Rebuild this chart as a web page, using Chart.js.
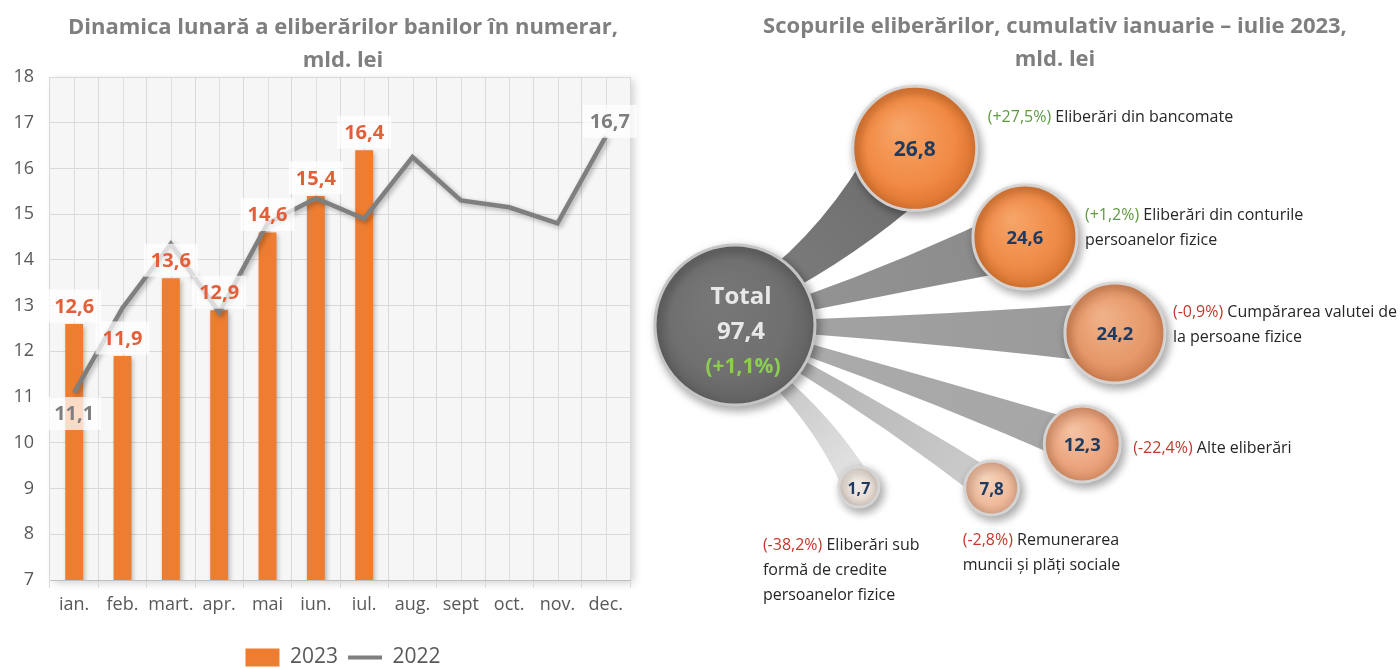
<!DOCTYPE html>
<html lang="ro">
<head>
<meta charset="UTF-8">
<title>Eliberări de numerar</title>
<script src="https://cdn.jsdelivr.net/npm/chart.js"></script>
<style>
  html, body { margin: 0; padding: 0; background: #fff; overflow: hidden; }
  body { width: 1400px; height: 668px; position: relative; }
  #wrapLeft { position: absolute; left: 0; top: 0; width: 686px; height: 678px; }
  #wrapRight { position: absolute; left: 640px; top: 0; width: 760px; height: 668px; }
</style>
</head>
<body>
<div id="wrapLeft"><canvas id="dynChart"></canvas></div>
<div id="wrapRight"><canvas id="purposeChart"></canvas></div>

<script>
// --- date: dinamica lunară (mld. lei) ---
const months = ['ian.', 'feb.', 'mart.', 'apr.', 'mai', 'iun.', 'iul.', 'aug.', 'sept', 'oct.', 'nov.', 'dec.'];
const cash2023 = [12.6, 11.9, 13.6, 12.9, 14.6, 15.4, 16.4];
const cash2022 = [11.1, 12.95, 14.35, 12.85, 14.8, 15.35, 14.9, 16.25, 15.3, 15.15, 14.8, 16.7];
const yMin = 7, yMax = 18;

// --- date: scopurile eliberărilor, ian-iul 2023 ---
const purposes = [
  ['Eliberări din bancomate'],
  ['Eliberări din conturile', 'persoanelor fizice'],
  ['Cumpărarea valutei de', 'la persoane fizice'],
  ['Alte eliberări'],
  ['Remunerarea', 'muncii și plăți sociale'],
  ['Eliberări sub', 'formă de credite', 'persoanelor fizice']
];
const purposeValues = [26.8, 24.6, 24.2, 12.3, 7.8, 1.7];
const purposeChange = [27.5, 1.2, -0.9, -22.4, -2.8, -38.2];
const totalValue = 97.4;
const totalChange = 1.1;

// --- aranjare (nu date): poziția bulelor în jurul totalului ---
const hubLayout = { r: 80, hi: '#777777', fill: '#707070', edge: '#626262' };
const bubbleLayout = [
  { angle: -44.5, dist: 252, r: 62, font: 21,   hi: '#f7a468', fill: '#f08a44', edge: '#d9732f', bandNear: '#7a7a7a', bandFar: '#6b6b6b', w0: 30, w1: 0.68, bend: 16 },
  { angle: -16.9, dist: 303, r: 52, font: 18.5, hi: '#f6a468', fill: '#ee8a47', edge: '#d67430', bandNear: '#939393', bandFar: '#8a8a8a', w0: 14, w1: 0.6, bend: 3 },
  { angle: 1.2,   dist: 380, r: 50, font: 18.5, hi: '#f0b188', fill: '#e6996a', edge: '#d08052', bandNear: '#a2a2a2', bandFar: '#999999', w0: 14, w1: 0.62, bend: 0 },
  { angle: 18.9,  dist: 367, r: 38, font: 18.5, hi: '#f3c2a3', fill: '#eba57e', edge: '#d78d64', bandNear: '#aaaaaa', bandFar: '#a6a6a6', w0: 12, w1: 0.56, bend: -3 },
  { angle: 32.4,  dist: 304, r: 27, font: 17,   hi: '#f6d4bd', fill: '#eebb9c', edge: '#dba386', bandNear: '#b3b3b3', bandFar: '#cdcdcd', w0: 12, w1: 0.58, bend: -5 },
  { angle: 52.6,  dist: 204, r: 20, font: 16,   hi: '#f5efea', fill: '#e9ded6', edge: '#d3c7bf', bandNear: '#c8c8c8', bandFar: '#e6e6e6', w0: 14, w1: 0.78, bend: -12 }
];
const labelLayout = [
  { dx: 73, dy: -31 },
  { dx: 60, dy: -21 },
  { dx: 58, dy: -21 },
  { dx: 51, dy: 5 },
  { dx: -29, dy: 53 },
  { dx: -96, dy: 58 }
];

const fmt = v => v.toFixed(1).replace('.', ',');
const fmtPct = v => '(' + (v >= 0 ? '+' : '') + fmt(v) + '%)';

const FONT = '"Open Sans"';
Chart.defaults.font.family = FONT;
Chart.defaults.color = '#595959';

// ---------- grafic stânga ----------
const plotBackdrop = {
  id: 'plotBackdrop',
  beforeDraw(chart) {
    const { ctx, chartArea: a } = chart;
    ctx.save();
    ctx.shadowColor = 'rgba(0,0,0,0.18)';
    ctx.shadowBlur = 8;
    ctx.shadowOffsetX = 4;
    ctx.shadowOffsetY = 3;
    ctx.fillStyle = '#f6f6f6';
    ctx.fillRect(a.left, a.top, a.width, a.height);
    ctx.restore();
  },
  beforeDatasetsDraw(chart) {
    // linii verticale la mijlocul fiecărei luni
    const { ctx, chartArea: a, scales: { x } } = chart;
    ctx.save();
    ctx.strokeStyle = '#dddddd';
    ctx.lineWidth = 1;
    months.forEach((m, i) => {
      const px = Math.round(x.getPixelForValue(i)) + 0.5;
      ctx.beginPath();
      ctx.moveTo(px, a.top);
      ctx.lineTo(px, a.bottom);
      ctx.stroke();
    });
    ctx.restore();
  }
};

const softShadow = {
  id: 'softShadow',
  beforeDatasetDraw(chart) {
    const ctx = chart.ctx;
    ctx.save();
    ctx.shadowColor = 'rgba(0,0,0,0.3)';
    ctx.shadowBlur = 5;
    ctx.shadowOffsetX = 2;
    ctx.shadowOffsetY = 2;
  },
  afterDatasetDraw(chart) {
    chart.ctx.restore();
  }
};

const valueLabels = {
  id: 'valueLabels',
  afterDatasetsDraw(chart) {
    const ctx = chart.ctx;
    const bars = chart.getDatasetMeta(0).data;
    const pts = chart.getDatasetMeta(1).data;
    ctx.save();
    ctx.font = 'bold 20px ' + FONT;
    ctx.textAlign = 'center';
    ctx.textBaseline = 'middle';
    const tag = (txt, x, y, color) => {
      const w = ctx.measureText(txt).width + 14, h = 33;
      ctx.fillStyle = 'rgba(255,255,255,0.72)';
      ctx.fillRect(x - w / 2, y - h / 2, w, h);
      ctx.fillStyle = color;
      ctx.fillText(txt, x, y + 1);
    };
    bars.forEach((b, i) => tag(fmt(cash2023[i]), b.x, b.y - 18, '#e35f3a'));
    const last = cash2022.length - 1;
    tag(fmt(cash2022[0]), pts[0].x, pts[0].y + 21, '#7f7f7f');
    tag(fmt(cash2022[last]), pts[last].x + 4, pts[last].y - 15, '#7f7f7f');
    ctx.restore();
  }
};

new Chart(document.getElementById('dynChart'), {
  type: 'bar',
  data: {
    labels: months,
    datasets: [
      {
        label: '2023',
        data: cash2023,
        backgroundColor: '#ed7d31',
        barPercentage: 0.37,
        categoryPercentage: 1,
        order: 1
      },
      {
        label: '2022',
        type: 'line',
        data: cash2022,
        borderColor: '#7f7f7f',
        backgroundColor: '#7f7f7f',
        borderWidth: 4.5,
        pointRadius: 0,
        tension: 0,
        order: 0
      }
    ]
  },
  options: {
    responsive: true,
    maintainAspectRatio: false,
    animation: false,
    layout: { padding: 0 },
    scales: {
      x: {
        grid: { color: '#d9d9d9', tickLength: 8, offset: true },
        border: { color: '#bfbfbf' },
        ticks: { font: { size: 18 }, color: '#595959', padding: 6, maxRotation: 0, autoSkip: false },
        afterFit(s) { s.height = 57; }
      },
      y: {
        min: yMin,
        max: yMax,
        grid: { color: '#d9d9d9', drawTicks: false },
        border: { display: false },
        ticks: { stepSize: 1, font: { size: 18 }, color: '#595959', padding: 16 },
        afterFit(s) { s.width = 50; }
      },
      yRight: {
        position: 'right',
        grid: { display: false },
        border: { display: false },
        ticks: { display: false },
        afterFit(s) { s.width = 56; }
      }
    },
    plugins: {
      title: {
        display: true,
        text: ['Dinamica lunară a eliberărilor banilor în numerar,', 'mld. lei'],
        color: '#7f7f7f',
        font: { size: 22, weight: 'bold', lineHeight: 1.5 },
        padding: { top: 11, bottom: 0 }
      },
      legend: {
        position: 'bottom',
        labels: {
          usePointStyle: true,
          pointStyleWidth: 34,
          boxHeight: 18,
          color: '#595959',
          font: { size: 21 },
          padding: 10,
          generateLabels(chart) {
            return chart.data.datasets.map((ds, i) => ({
              text: ds.label,
              datasetIndex: i,
              fillStyle: ds.type === 'line' ? ds.borderColor : ds.backgroundColor,
              strokeStyle: ds.type === 'line' ? ds.borderColor : ds.backgroundColor,
              lineWidth: ds.type === 'line' ? 4 : 0,
              pointStyle: ds.type === 'line' ? 'line' : 'rect',
              fontColor: '#595959',
              hidden: false
            }));
          }
        }
      },
      tooltip: { enabled: false }
    }
  },
  plugins: [plotBackdrop, softShadow, valueLabels]
});

// ---------- grafic dreapta ----------
const toXY = L => {
  const a = L.angle * Math.PI / 180;
  return { x: L.dist * Math.cos(a), y: -L.dist * Math.sin(a), r: L.r };
};

const bubbleFill = (c, L) => {
  if (!c.raw) return L.fill;
  const { chart } = c;
  const x = chart.scales.x.getPixelForValue(c.raw.x);
  const y = chart.scales.y.getPixelForValue(c.raw.y);
  const r = c.raw.r;
  if (!Number.isFinite(x) || !Number.isFinite(y)) return L.fill;
  const g = chart.ctx.createRadialGradient(x - r * 0.25, y - r * 0.35, r * 0.05, x, y, r);
  g.addColorStop(0, L.hi);
  g.addColorStop(0.7, L.fill);
  g.addColorStop(1, L.edge);
  return g;
};

const purposeDecor = {
  id: 'purposeDecor',
  beforeDatasetsDraw(chart) {
    // benzile care leagă totalul de fiecare bulă
    const ctx = chart.ctx;
    const hub = chart.getDatasetMeta(0).data[0];
    const hubR = hubLayout.r;
    ctx.save();
    chart.getDatasetMeta(1).data.forEach((el, i) => {
      const L = bubbleLayout[i];
      const dx = el.x - hub.x, dy = el.y - hub.y, d = Math.hypot(dx, dy);
      const ux = dx / d, uy = dy / d, nx = -uy, ny = ux;
      const sx = hub.x + ux * (hubR - 14), sy = hub.y + uy * (hubR - 14);
      const h0 = L.w0 / 2, h1 = L.r * L.w1;
      const hc = h0 + (h1 - h0) * 0.35;
      const mx = (sx + el.x) / 2 + nx * L.bend, my = (sy + el.y) / 2 + ny * L.bend;
      const g = ctx.createLinearGradient(hub.x + ux * hubR, hub.y + uy * hubR, el.x, el.y);
      g.addColorStop(0, L.bandNear);
      g.addColorStop(1, L.bandFar);
      ctx.beginPath();
      ctx.moveTo(sx + nx * h0, sy + ny * h0);
      ctx.quadraticCurveTo(mx + nx * hc, my + ny * hc, el.x + nx * h1, el.y + ny * h1);
      ctx.lineTo(el.x - nx * h1, el.y - ny * h1);
      ctx.quadraticCurveTo(mx - nx * hc, my - ny * hc, sx - nx * h0, sy - ny * h0);
      ctx.closePath();
      ctx.fillStyle = g;
      ctx.fill();
    });
    ctx.restore();
  },
  beforeDatasetDraw(chart) {
    const ctx = chart.ctx;
    ctx.save();
    ctx.shadowColor = 'rgba(0,0,0,0.35)';
    ctx.shadowBlur = 10;
    ctx.shadowOffsetX = 3;
    ctx.shadowOffsetY = 4;
  },
  afterDatasetDraw(chart) {
    chart.ctx.restore();
  },
  afterDatasetsDraw(chart) {
    const ctx = chart.ctx;
    const hub = chart.getDatasetMeta(0).data[0];
    ctx.save();
    ctx.textAlign = 'center';
    ctx.textBaseline = 'middle';
    ctx.font = 'bold 24px ' + FONT;
    ctx.fillStyle = '#e8e8e8';
    ctx.fillText('Total', hub.x + 6, hub.y - 28);
    ctx.fillText(fmt(totalValue), hub.x + 6, hub.y + 7);
    ctx.font = 'bold 21px ' + FONT;
    ctx.fillStyle = '#8ccf50';
    ctx.fillText(fmtPct(totalChange), hub.x + 8, hub.y + 42);

    chart.getDatasetMeta(1).data.forEach((el, i) => {
      const L = bubbleLayout[i];
      ctx.textAlign = 'center';
      ctx.font = 'bold ' + L.font + 'px ' + FONT;
      ctx.fillStyle = '#1f3a5f';
      ctx.fillText(fmt(purposeValues[i]), el.x, el.y + 2);

      const P = labelLayout[i];
      const x0 = el.x + P.dx;
      ctx.textAlign = 'left';
      ctx.font = '16px ' + FONT;
      purposes[i].forEach((line, k) => {
        const y = el.y + P.dy + k * 25;
        let x = x0;
        if (k === 0) {
          const pct = fmtPct(purposeChange[i]);
          ctx.fillStyle = purposeChange[i] >= 0 ? '#5e9a3e' : '#c0392b';
          ctx.fillText(pct, x, y);
          x += ctx.measureText(pct + ' ').width;
        }
        ctx.fillStyle = '#262626';
        ctx.fillText(line, x, y);
      });
    });
    ctx.restore();
  }
};

new Chart(document.getElementById('purposeChart'), {
  type: 'bubble',
  data: {
    datasets: [
      {
        label: 'Total',
        data: [{ x: 0, y: 0, r: hubLayout.r }],
        backgroundColor: c => bubbleFill(c, hubLayout),
        borderColor: '#c4c4c4',
        borderWidth: 3,
        clip: false
      },
      {
        label: 'Scopuri',
        data: bubbleLayout.map(toXY),
        backgroundColor: c => bubbleFill(c, bubbleLayout[c.dataIndex] || bubbleLayout[0]),
        borderColor: 'rgba(214,214,214,0.95)',
        borderWidth: 3,
        clip: false
      }
    ]
  },
  options: {
    responsive: true,
    maintainAspectRatio: false,
    animation: false,
    layout: { autoPadding: false, padding: { left: 70, right: 0, top: 0, bottom: 0 } },
    scales: {
      x: { type: 'linear', display: false, min: -25, max: 665 },
      y: { type: 'linear', display: false, min: -343, max: 249 }
    },
    plugins: {
      title: {
        display: true,
        text: ['Scopurile eliberărilor, cumulativ ianuarie – iulie 2023,', 'mld. lei'],
        color: '#7f7f7f',
        font: { size: 22, weight: 'bold', lineHeight: 1.5 },
        padding: { top: 10, bottom: 0 }
      },
      legend: { display: false },
      tooltip: { enabled: false }
    }
  },
  plugins: [purposeDecor]
});
</script>
</body>
</html>
